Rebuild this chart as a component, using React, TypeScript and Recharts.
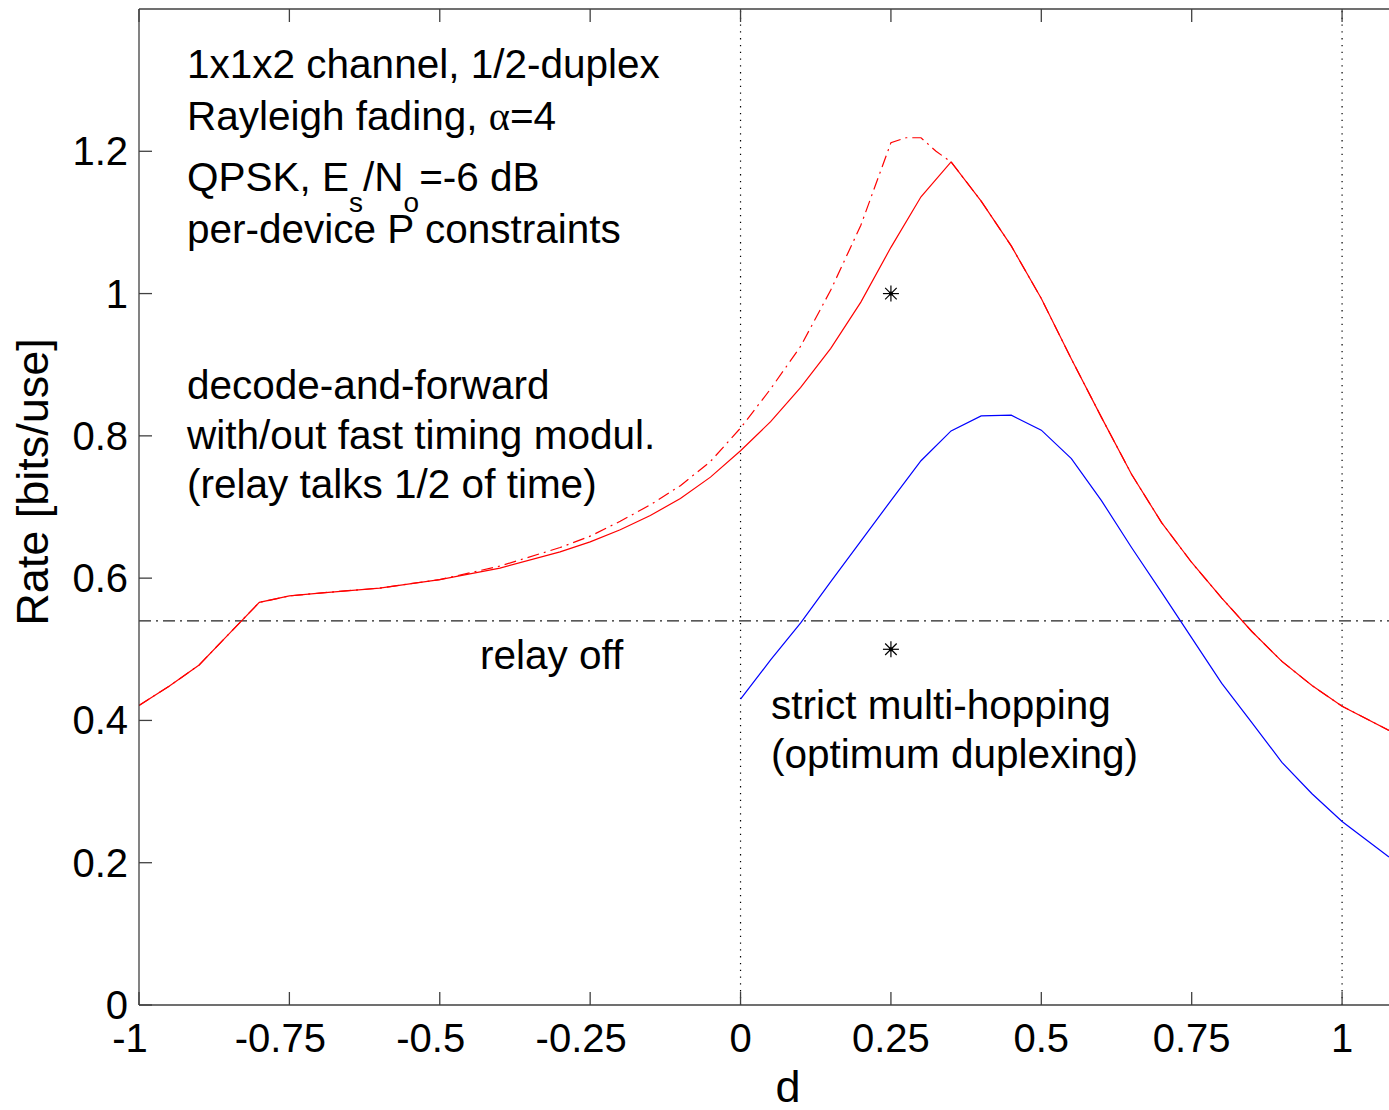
import React from 'react';
import { ComposedChart, Line, XAxis, YAxis, ReferenceLine, Scatter } from 'recharts';

// ---- data ----
const xTicks = [-1, -0.75, -0.5, -0.25, 0, 0.25, 0.5, 0.75, 1];
const xTickLabels = ['-1', '-0.75', '-0.5', '-0.25', '0', '0.25', '0.5', '0.75', '1'];
const yTicks = [0, 0.2, 0.4, 0.6, 0.8, 1, 1.2];
const yTickLabels = ['0', '0.2', '0.4', '0.6', '0.8', '1', '1.2'];

// decode-and-forward, without fast timing modulation (solid red)
const dfX = [-1, -0.95, -0.9, -0.85, -0.8, -0.75, -0.7, -0.6, -0.5, -0.4, -0.3, -0.25, -0.2, -0.15, -0.1, -0.05, 0, 0.05, 0.1, 0.15, 0.2, 0.25, 0.3, 0.35, 0.4, 0.45, 0.5, 0.55, 0.6, 0.65, 0.7, 0.75, 0.8, 0.85, 0.9, 0.95, 1.0, 1.078];
const dfRate = [0.421, 0.448, 0.478, 0.522, 0.566, 0.575, 0.579, 0.586, 0.598, 0.614, 0.637, 0.651, 0.668, 0.688, 0.712, 0.742, 0.779, 0.82, 0.868, 0.923, 0.988, 1.065, 1.136, 1.185, 1.13, 1.067, 0.993, 0.908, 0.826, 0.746, 0.678, 0.622, 0.572, 0.525, 0.483, 0.449, 0.42, 0.386];

// decode-and-forward, with fast timing modulation (dash-dot red)
const ftX = [-1, -0.95, -0.9, -0.85, -0.8, -0.75, -0.7, -0.6, -0.5, -0.4, -0.3, -0.25, -0.2, -0.15, -0.1, -0.05, 0, 0.05, 0.1, 0.15, 0.2, 0.25, 0.275, 0.3, 0.325, 0.35, 0.4, 0.45, 0.5, 0.55, 0.6, 0.65, 0.7, 0.75, 0.8, 0.85, 0.9, 0.95, 1.0, 1.078];
const ftRate = [0.421, 0.448, 0.478, 0.522, 0.566, 0.575, 0.579, 0.586, 0.598, 0.617, 0.643, 0.659, 0.68, 0.703, 0.73, 0.764, 0.811, 0.866, 0.926, 1.005, 1.096, 1.212, 1.219, 1.219, 1.2, 1.185, 1.13, 1.067, 0.993, 0.908, 0.826, 0.746, 0.678, 0.622, 0.572, 0.525, 0.483, 0.449, 0.42, 0.386];

// strict multi-hopping, optimum duplexing (blue)
const mhX = [0, 0.05, 0.1, 0.15, 0.2, 0.25, 0.3, 0.35, 0.4, 0.45, 0.5, 0.55, 0.6, 0.65, 0.7, 0.75, 0.8, 0.85, 0.9, 0.95, 1.0, 1.078];
const mhRate = [0.43, 0.485, 0.537, 0.595, 0.652, 0.709, 0.765, 0.807, 0.828, 0.829, 0.808, 0.768, 0.709, 0.643, 0.58, 0.516, 0.452, 0.397, 0.341, 0.297, 0.258, 0.208];

// asterisk markers
const starX = [0.25, 0.25];
const starRate = [1.0, 0.5];

const relayOffRate = 0.54;
const vLines = [0, 1];

const xDomain = [-1, 1.078];
const yDomain = [0, 1.4];

const toPts = (xs: number[], ys: number[]) => xs.map((x, i) => ({ x, y: ys[i] }));
const dfData = toPts(dfX, dfRate);
const ftData = toPts(ftX, ftRate);
const mhData = toPts(mhX, mhRate);
const starData = toPts(starX, starRate);

const FONT = '"Liberation Sans", Arial, Helvetica, sans-serif';
const AXIS = '#404040';

const BottomTick = (props: any) => {
  const { x, y, payload } = props;
  const v = payload.value as number;
  const idx = xTicks.indexOf(v);
  const label = idx >= 0 ? xTickLabels[idx] : String(v);
  return (
    <g>
      <line x1={x} y1={y} x2={x} y2={y - 13} stroke={AXIS} strokeWidth={1.3} />
      <text x={x + (v < 0 ? -9 : 0)} y={y + 47} textAnchor="middle" fontSize={40} fontFamily={FONT} fill="#000">
        {label}
      </text>
    </g>
  );
};

const TopTick = (props: any) => {
  const { x, y } = props;
  return <line x1={x} y1={y} x2={x} y2={y + 13} stroke={AXIS} strokeWidth={1.3} />;
};

const LeftTick = (props: any) => {
  const { x, y, payload } = props;
  const v = payload.value as number;
  const idx = yTicks.indexOf(v);
  const label = idx >= 0 ? yTickLabels[idx] : String(v);
  return (
    <g>
      <line x1={x} y1={y} x2={x + 13} y2={y} stroke={AXIS} strokeWidth={1.3} />
      <text x={x - 11} y={y + 14} textAnchor="end" fontSize={40} fontFamily={FONT} fill="#000">
        {label}
      </text>
    </g>
  );
};

const Asterisk = (props: any) => {
  const { cx, cy } = props;
  const r = 8;
  const d = r * 0.72;
  return (
    <g stroke="#000" strokeWidth={1.2}>
      <line x1={cx - r} y1={cy} x2={cx + r} y2={cy} />
      <line x1={cx} y1={cy - r} x2={cx} y2={cy + r} />
      <line x1={cx - d} y1={cy - d} x2={cx + d} y2={cy + d} />
      <line x1={cx - d} y1={cy + d} x2={cx + d} y2={cy - d} />
      <circle cx={cx} cy={cy} r={1.5} fill="#000" />
    </g>
  );
};

const textStyle = { fontFamily: FONT, fontSize: 40.5, fill: '#000' } as const;

export default function App() {
  return (
    <div style={{ position: 'absolute', left: 0, top: 0, width: 1389, height: 1110, background: '#fff', overflow: 'hidden' }}>
      <ComposedChart width={1389} height={1110} margin={{ top: 0, right: 0, bottom: 0, left: 0 }}>
        <XAxis
          xAxisId="b"
          dataKey="x"
          type="number"
          domain={xDomain}
          allowDataOverflow
          ticks={xTicks}
          interval={0}
          orientation="bottom"
          height={105}
          tickSize={0}
          tickMargin={0}
          tickLine={false}
          tick={BottomTick}
          axisLine={{ stroke: AXIS, strokeWidth: 1.3 }}
        />
        <XAxis
          xAxisId="t"
          dataKey="x"
          type="number"
          domain={xDomain}
          allowDataOverflow
          ticks={xTicks}
          interval={0}
          orientation="top"
          height={9}
          tickSize={0}
          tickMargin={0}
          tickLine={false}
          tick={TopTick}
          axisLine={{ stroke: AXIS, strokeWidth: 1.3 }}
        />
        <YAxis
          yAxisId="l"
          type="number"
          domain={yDomain}
          allowDataOverflow
          ticks={yTicks}
          interval={0}
          width={139}
          tickSize={0}
          tickMargin={0}
          tickLine={false}
          tick={LeftTick}
          axisLine={{ stroke: AXIS, strokeWidth: 1.3 }}
        />
        {vLines.map((v) => (
          <ReferenceLine key={v} xAxisId="b" yAxisId="l" x={v} stroke="#000" strokeWidth={1.2} strokeDasharray="1.3 5.5" />
        ))}
        <ReferenceLine xAxisId="b" yAxisId="l" y={relayOffRate} stroke="#222" strokeWidth={1.2} strokeDasharray="12 5 2 5" />
        <Line xAxisId="b" yAxisId="l" data={ftData} dataKey="y" type="linear" stroke="#ff0000" strokeWidth={1.2} strokeDasharray="12 5 2 5" dot={false} isAnimationActive={false} />
        <Line xAxisId="b" yAxisId="l" data={dfData} dataKey="y" type="linear" stroke="#ff0000" strokeWidth={1.2} dot={false} isAnimationActive={false} />
        <Line xAxisId="b" yAxisId="l" data={mhData} dataKey="y" type="linear" stroke="#0000ff" strokeWidth={1.2} dot={false} isAnimationActive={false} />
        <Scatter xAxisId="b" yAxisId="l" data={starData} dataKey="y" shape={Asterisk} isAnimationActive={false} />
      </ComposedChart>
      <svg width={1389} height={1110} style={{ position: 'absolute', left: 0, top: 0, pointerEvents: 'none' }}>
        <text x={187} y={78} {...textStyle}>1x1x2 channel, 1/2-duplex</text>
        <text x={187} y={130} {...textStyle}>
          Rayleigh fading, <tspan fontFamily='"Liberation Serif", "Times New Roman", serif'>α</tspan>=4
        </text>
        <text x={187} y={191} {...textStyle}>
          QPSK, E<tspan dy={21} fontSize={28}>s</tspan><tspan dy={-21}>/N</tspan><tspan dy={21} fontSize={28}>o</tspan><tspan dy={-21}>=-6 dB</tspan>
        </text>
        <text x={187} y={243} {...textStyle}>per-device P constraints</text>
        <text x={187} y={399} {...textStyle}>decode-and-forward</text>
        <text x={187} y={449} {...textStyle}>with/out fast timing modul.</text>
        <text x={187} y={498} {...textStyle}>(relay talks 1/2 of time)</text>
        <text x={480} y={669} {...textStyle}>relay off</text>
        <text x={771} y={719} {...textStyle}>strict multi-hopping</text>
        <text x={771} y={768} {...textStyle}>(optimum duplexing)</text>
        <text transform="translate(48,482) rotate(-90)" textAnchor="middle" fontFamily={FONT} fontSize={45} fill="#000">Rate [bits/use]</text>
        <text x={788} y={1102} textAnchor="middle" fontFamily={FONT} fontSize={45} fill="#000">d</text>
      </svg>
    </div>
  );
}
